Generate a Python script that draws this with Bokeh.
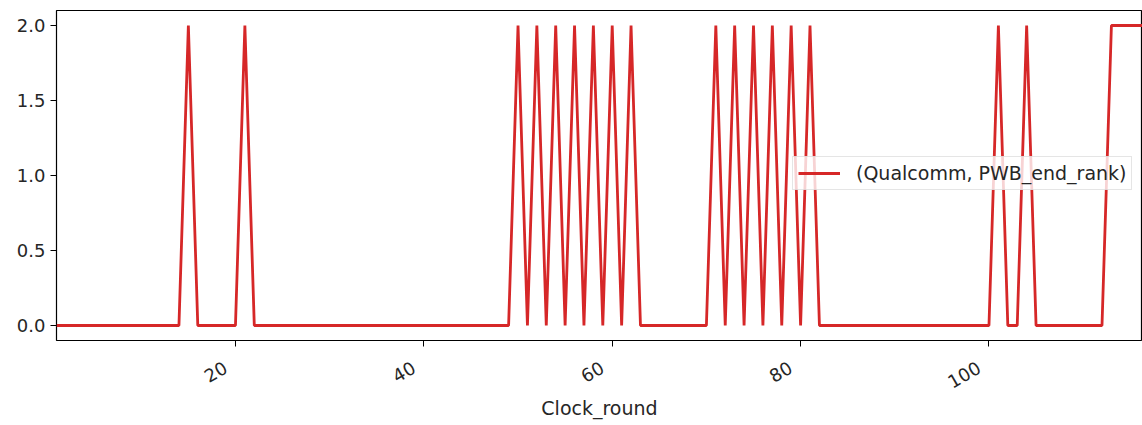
from math import pi
from bokeh.plotting import figure
from bokeh.models import FixedTicker, NumeralTickFormatter, Legend, LegendItem, Range1d
from bokeh.embed import file_html
from bokeh.resources import INLINE

# Data
clock_round = list(range(1, 118))
peaks = [15, 21, 50, 52, 54, 56, 58, 60, 62, 71, 73, 75, 77, 79, 81, 101, 104]
plateau_start = 113
pwb_end_rank = [2 if (c in peaks or c >= plateau_start) else 0 for c in clock_round]
x_ticks = [20, 40, 60, 80, 100]
y_ticks = [0.0, 0.5, 1.0, 1.5, 2.0]
series_label = "(Qualcomm, PWB_end_rank)"

FONT = "DejaVu Sans"

p = figure(width=1142, height=425, output_backend="svg", toolbar_location=None,
           x_range=Range1d(1, 116.3), y_range=Range1d(-0.1, 2.1),
           min_border_left=56, min_border_right=0, min_border_top=10, min_border_bottom=85)

r = p.line(clock_round, pwb_end_rank, line_color="#d62728", line_width=2.8)

p.xgrid.visible = False
p.ygrid.visible = False
p.outline_line_color = "black"
p.outline_line_width = 1.2

for ax in (p.xaxis[0], p.yaxis[0]):
    ax.axis_line_color = None
    ax.major_tick_out = 6
    ax.major_tick_in = 0
    ax.minor_tick_line_color = None
    ax.major_tick_line_color = "black"
    ax.major_label_text_font = FONT
    ax.major_label_text_font_size = "18px"
    ax.major_label_text_color = "#262626"
    ax.major_label_standoff = 5

p.xaxis[0].ticker = FixedTicker(ticks=x_ticks)
p.xaxis[0].major_label_orientation = pi / 6
# pad rotated labels (no-break spaces) so they sit like matplotlib's ha="right" labels
p.xaxis[0].major_label_overrides = {t: f"{t}\u00a0\u00a0" for t in x_ticks}
p.xaxis[0].major_label_standoff = 14
p.xaxis[0].axis_label = "Clock_round"
p.xaxis[0].axis_label_text_font = FONT
p.xaxis[0].axis_label_text_font_size = "19px"
p.xaxis[0].axis_label_text_font_style = "normal"
p.xaxis[0].axis_label_text_color = "#262626"
p.xaxis[0].axis_label_standoff = -8

p.yaxis[0].ticker = FixedTicker(ticks=y_ticks)
p.yaxis[0].formatter = NumeralTickFormatter(format="0.0")

legend = Legend(items=[LegendItem(label=series_label, renderers=[r])],
                location=(736, 150), padding=5, margin=0, spacing=0,
                glyph_width=42, glyph_height=18, label_standoff=16,
                label_height=18, label_text_line_height=1.0,
                label_text_font=FONT, label_text_font_size="19px",
                label_text_color="#262626",
                border_line_color="#cccccc", border_line_width=1,
                background_fill_color="white", background_fill_alpha=0.8)
p.add_layout(legend, "center")

open("out.html", "w").write(file_html(p, INLINE))
